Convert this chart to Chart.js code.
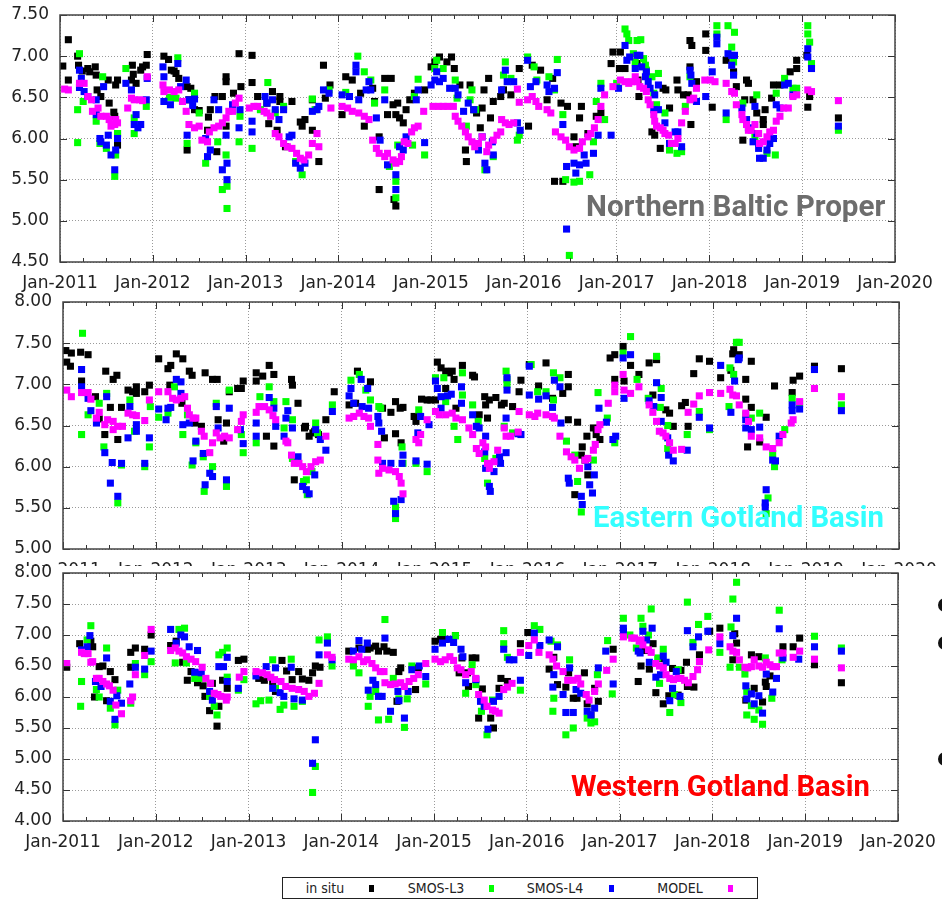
<!DOCTYPE html>
<html>
<head>
<meta charset="utf-8">
<script src="https://cdn.jsdelivr.net/npm/chart.js@4.4.0/dist/chart.umd.min.js"></script>
<style>
body{margin:0;background:#fff;width:942px;height:903px;position:relative;overflow:hidden}
canvas{position:absolute;left:0}
#c1{top:0}
#c2{top:290px}
#c3{top:560px}
#mask{position:absolute;left:0;top:566px;width:942px;height:30px;background:#fff}
.region{position:absolute;font-family:Roboto,sans-serif;font-weight:bold;font-size:30px;line-height:30px;white-space:nowrap}
#legend{position:absolute;left:282px;top:877px;width:476px;height:22px;box-sizing:border-box;border:1px solid #222;background:#fff;
  font-family:"DejaVu Sans Condensed","DejaVu Sans",sans-serif;font-stretch:condensed;font-size:14px;color:#222}
#legend span{position:absolute;top:2px;line-height:16px;transform:translateX(-50%)}
#legend i{position:absolute;top:7px;width:5px;height:7px}
.dot{position:absolute;left:938px;width:14px;height:14px;border-radius:50%;background:#111}
</style>
</head>
<body>
<canvas id="c1" width="942" height="300"></canvas>
<canvas id="c2" width="942" height="300"></canvas>
<div id="mask"></div>
<canvas id="c3" width="942" height="343"></canvas>
<div class="region" style="left:586px;top:191px;color:#6d6d6d;font-size:29.6px">Northern Baltic Proper</div>
<div class="region" style="left:593px;top:502px;color:#33ffff;font-size:29.3px">Eastern Gotland Basin</div>
<div class="region" style="left:571px;top:771px;color:#ff0000;font-size:29.2px">Western Gotland Basin</div>
<div class="dot" style="top:598px"></div>
<div class="dot" style="top:636px"></div>
<div class="dot" style="top:752px"></div>
<div id="legend">
  <span style="left:42px">in situ</span><i style="left:86px;background:#000"></i>
  <span style="left:153px">SMOS-L3</span><i style="left:206px;background:#00ff00"></i>
  <span style="left:272px">SMOS-L4</span><i style="left:326px;background:#0000ff"></i>
  <span style="left:397px">MODEL</span><i style="left:445px;background:#ff00ff"></i>
</div>
<script>
// time axis: decimal years, labels Jan-YYYY
var yearMin = 2011, yearMax = 2020;
var seriesNames = ["in situ", "SMOS-L3", "SMOS-L4", "MODEL"];

// ---- Northern Baltic Proper ----
var nbpInSitu = [[2011.03,6.88],[2011.09,7.20],[2011.09,6.71],[2011.19,7.00],[2011.20,6.89],[2011.24,6.82],[2011.30,6.85],[2011.32,6.81],[2011.38,6.87],[2011.39,6.77],[2011.40,6.59],[2011.44,6.51],[2011.52,6.71],[2011.53,6.43],[2011.60,6.65],[2011.62,6.71],[2011.58,6.32],[2011.59,6.27],[2011.62,6.06],[2011.62,5.92],[2011.77,6.71],[2011.78,6.89],[2011.79,6.78],[2011.82,6.67],[2011.87,6.83],[2011.89,6.87],[2011.93,6.89],[2011.94,7.02],[2012.12,7.00],[2012.17,6.96],[2012.20,6.83],[2012.23,6.82],[2012.25,6.79],[2012.28,6.73],[2012.37,6.63],[2012.41,6.61],[2012.39,6.47],[2012.45,6.35],[2012.50,6.34],[2012.37,5.86],[2012.59,6.10],[2012.60,6.26],[2012.62,6.35],[2012.67,6.51],[2012.69,5.84],[2012.75,6.51],[2012.79,6.75],[2012.79,6.69],[2012.79,6.15],[2012.87,6.55],[2012.93,7.03],[2012.95,6.63],[2013.07,7.01],[2013.07,6.68],[2013.13,6.51],[2013.23,6.43],[2013.25,6.18],[2013.29,6.57],[2013.34,6.10],[2013.37,6.51],[2013.37,6.45],[2013.43,5.90],[2013.50,6.45],[2013.59,6.20],[2013.61,6.15],[2013.64,6.23],[2013.72,6.47],[2013.72,6.10],[2013.79,5.72],[2013.86,6.49],[2013.91,6.65],[2013.84,6.89],[2014.04,6.29],[2014.08,6.75],[2014.15,6.71],[2014.24,6.55],[2014.28,6.15],[2014.37,6.61],[2014.39,6.45],[2014.44,6.02],[2014.44,5.38],[2014.50,6.73],[2014.53,6.29],[2014.57,6.73],[2014.59,6.41],[2014.62,6.29],[2014.64,6.43],[2014.66,6.25],[2014.62,5.18],[2014.60,5.26],[2014.70,6.19],[2014.73,6.35],[2014.77,6.47],[2014.82,6.55],[2014.93,6.59],[2015.00,6.87],[2015.04,6.93],[2015.09,6.99],[2015.17,6.93],[2015.22,6.99],[2015.25,6.85],[2015.31,6.65],[2015.37,5.86],[2015.38,5.72],[2015.42,6.65],[2015.46,6.35],[2015.49,6.31],[2015.53,6.13],[2015.55,6.37],[2015.57,6.59],[2015.62,6.73],[2015.64,6.25],[2015.67,6.45],[2015.75,6.51],[2015.78,6.59],[2015.86,6.53],[2015.95,6.85],[2016.05,6.15],[2016.09,6.89],[2016.18,6.83],[2016.25,6.47],[2016.31,6.73],[2016.33,5.48],[2016.40,6.43],[2016.42,5.48],[2016.47,6.39],[2016.54,6.02],[2016.60,6.25],[2016.62,6.39],[2016.56,5.90],[2016.69,6.06],[2016.78,6.27],[2016.83,6.31],[2016.94,6.91],[2016.96,7.05],[2017.03,6.85],[2017.04,7.05],[2017.09,6.85],[2017.22,6.91],[2017.23,6.71],[2017.24,6.51],[2017.38,6.08],[2017.41,6.04],[2017.47,5.88],[2017.50,6.61],[2017.53,6.59],[2017.57,6.37],[2017.65,6.71],[2017.66,6.59],[2017.72,6.53],[2017.77,6.53],[2017.79,6.87],[2017.80,6.17],[2017.81,7.13],[2017.79,7.19],[2017.86,6.69],[2017.96,7.27],[2017.96,7.07],[2018.03,6.38],[2018.18,6.95],[2018.26,6.81],[2018.29,6.63],[2018.38,6.47],[2018.40,6.71],[2018.42,6.67],[2018.36,5.98],[2018.47,6.47],[2018.51,6.31],[2018.58,6.23],[2018.60,6.35],[2018.58,6.17],[2018.67,6.49],[2018.69,6.65],[2018.76,6.65],[2018.87,6.81],[2018.94,6.85],[2018.94,6.95],[2019.05,7.01],[2019.06,6.38],[2019.08,6.51],[2019.39,6.25]];
var nbpL3 = [[2011.21,7.03],[2011.19,6.35],[2011.19,5.95],[2011.25,6.45],[2011.46,6.75],[2011.39,6.21],[2011.43,5.94],[2011.50,5.88],[2011.59,5.54],[2011.60,5.80],[2011.62,6.06],[2011.71,6.85],[2011.80,6.06],[2011.80,6.25],[2011.93,6.39],[2012.18,6.50],[2012.27,6.98],[2012.25,6.49],[2012.37,5.94],[2012.45,6.55],[2012.50,6.31],[2012.57,5.70],[2012.70,5.96],[2012.75,5.38],[2012.79,5.80],[2012.80,5.42],[2012.80,5.15],[2012.93,5.96],[2012.94,6.27],[2013.07,5.88],[2013.24,6.68],[2013.16,6.35],[2013.32,6.31],[2013.41,6.39],[2013.54,5.72],[2013.61,5.56],[2013.72,6.48],[2013.75,6.35],[2013.90,6.59],[2014.08,6.56],[2014.21,7.00],[2014.28,6.81],[2014.35,6.71],[2014.39,6.43],[2014.50,6.59],[2014.55,5.66],[2014.62,5.48],[2014.62,5.28],[2014.64,5.92],[2014.80,5.92],[2014.82,6.51],[2014.86,6.72],[2014.93,5.80],[2015.04,6.85],[2015.06,6.95],[2015.13,6.85],[2015.26,6.71],[2015.28,6.49],[2015.38,6.15],[2015.42,6.47],[2015.44,6.59],[2015.48,6.35],[2015.58,5.62],[2015.67,5.78],[2015.78,6.77],[2015.80,6.93],[2015.86,6.73],[2015.93,5.98],[2015.95,6.04],[2016.04,6.99],[2016.11,6.87],[2016.14,6.71],[2016.27,6.75],[2016.36,6.96],[2016.33,6.59],[2016.42,6.29],[2016.45,5.50],[2016.54,5.47],[2016.60,5.48],[2016.71,5.56],[2016.75,5.96],[2016.78,6.45],[2016.83,6.67],[2016.87,6.23],[2016.49,4.58],[2017.00,6.67],[2017.09,7.33],[2017.11,7.27],[2017.13,7.19],[2017.22,7.19],[2017.26,7.20],[2017.18,7.03],[2017.20,6.93],[2017.29,6.97],[2017.31,6.89],[2017.32,6.83],[2017.38,6.75],[2017.45,6.79],[2017.40,6.55],[2017.43,6.41],[2017.52,6.31],[2017.57,5.86],[2017.65,5.82],[2017.70,5.84],[2017.74,6.39],[2017.79,6.75],[2018.08,7.37],[2018.08,7.27],[2018.20,7.37],[2018.27,7.29],[2018.24,7.11],[2018.26,6.93],[2018.18,6.23],[2018.36,6.43],[2018.51,6.53],[2018.49,6.02],[2018.62,5.82],[2018.71,5.80],[2018.72,6.55],[2018.81,6.73],[2018.90,6.61],[2018.94,6.61],[2019.06,7.37],[2019.06,7.27],[2019.08,7.17],[2019.10,6.91],[2019.39,6.10]];
var nbpL4 = [[2011.21,6.83],[2011.23,6.73],[2011.21,6.62],[2011.26,6.57],[2011.30,6.51],[2011.39,6.47],[2011.39,6.29],[2011.43,6.00],[2011.44,5.96],[2011.47,6.63],[2011.50,5.92],[2011.52,6.04],[2011.55,5.80],[2011.59,5.62],[2011.60,5.86],[2011.62,6.00],[2011.71,6.67],[2011.77,6.59],[2011.80,6.17],[2011.82,6.29],[2011.84,6.13],[2011.87,6.17],[2011.93,6.47],[2011.94,6.73],[2012.11,6.87],[2012.12,6.45],[2012.12,6.75],[2012.19,6.41],[2012.27,6.91],[2012.30,6.63],[2012.36,6.71],[2012.39,6.47],[2012.43,6.40],[2012.45,6.48],[2012.37,6.04],[2012.57,6.00],[2012.59,5.78],[2012.62,5.86],[2012.66,6.47],[2012.71,6.35],[2012.75,5.62],[2012.79,6.04],[2012.80,5.70],[2012.80,5.50],[2012.86,6.41],[2012.93,6.13],[2012.94,6.35],[2013.07,6.21],[2013.07,6.08],[2013.21,6.51],[2013.23,6.43],[2013.29,6.47],[2013.32,6.35],[2013.36,6.23],[2013.41,6.35],[2013.47,6.02],[2013.50,6.04],[2013.54,5.70],[2013.59,5.64],[2013.64,5.70],[2013.72,6.33],[2013.77,6.35],[2013.79,6.39],[2013.84,6.59],[2013.90,6.55],[2014.04,6.53],[2014.12,6.51],[2014.19,6.89],[2014.19,6.81],[2014.22,6.47],[2014.30,6.59],[2014.33,6.69],[2014.35,6.59],[2014.41,6.25],[2014.45,5.98],[2014.50,6.47],[2014.53,5.68],[2014.62,5.56],[2014.62,5.38],[2014.66,5.90],[2014.70,5.86],[2014.73,6.02],[2014.84,6.47],[2014.86,6.59],[2014.93,5.95],[2015.00,6.65],[2015.04,6.71],[2015.06,6.81],[2015.09,6.69],[2015.13,6.73],[2015.20,6.61],[2015.26,6.61],[2015.29,6.53],[2015.35,6.33],[2015.40,6.43],[2015.46,6.35],[2015.51,5.86],[2015.55,6.02],[2015.58,5.70],[2015.60,5.62],[2015.66,5.96],[2015.67,5.80],[2015.76,6.59],[2015.80,6.83],[2015.82,6.69],[2015.89,6.69],[2015.93,6.19],[2015.96,6.10],[2016.04,6.95],[2016.07,6.63],[2016.13,6.69],[2016.25,6.65],[2016.27,6.57],[2016.33,6.61],[2016.36,6.80],[2016.42,6.17],[2016.46,5.66],[2016.46,4.90],[2016.54,5.70],[2016.56,5.58],[2016.60,5.68],[2016.65,5.80],[2016.67,5.70],[2016.75,5.82],[2016.80,6.04],[2016.83,6.61],[2016.94,6.04],[2017.02,6.61],[2017.09,7.13],[2017.11,6.95],[2017.14,6.99],[2017.20,6.85],[2017.22,7.01],[2017.25,7.01],[2017.27,6.87],[2017.31,6.75],[2017.32,6.81],[2017.34,6.69],[2017.36,6.61],[2017.41,6.53],[2017.45,6.65],[2017.40,6.35],[2017.45,6.35],[2017.52,6.19],[2017.57,5.94],[2017.63,6.08],[2017.66,6.08],[2017.70,5.90],[2017.79,6.83],[2017.80,6.77],[2017.81,6.67],[2017.86,6.45],[2017.96,6.51],[2018.02,6.95],[2018.03,6.81],[2018.08,7.23],[2018.08,7.15],[2018.18,6.31],[2018.20,7.03],[2018.24,7.01],[2018.26,6.77],[2018.27,7.01],[2018.24,6.89],[2018.35,6.37],[2018.40,6.23],[2018.42,6.13],[2018.47,5.96],[2018.49,6.39],[2018.51,6.06],[2018.53,5.88],[2018.54,5.76],[2018.58,5.76],[2018.62,5.86],[2018.65,5.94],[2018.69,6.00],[2018.72,6.41],[2018.76,6.37],[2018.81,6.65],[2018.85,6.67],[2018.90,6.53],[2019.06,7.09],[2019.06,6.99],[2019.10,6.85],[2019.39,6.15]];
var nbpModel = [[2011.05,6.60],[2011.09,6.59],[2011.21,6.67],[2011.26,6.67],[2011.30,6.51],[2011.34,6.47],[2011.35,6.33],[2011.41,6.37],[2011.44,6.27],[2011.50,6.27],[2011.53,6.23],[2011.55,6.15],[2011.59,6.17],[2011.60,6.23],[2011.62,6.19],[2011.73,6.37],[2011.77,6.49],[2011.80,6.47],[2011.86,6.47],[2011.89,6.46],[2011.94,6.75],[2012.11,6.65],[2012.12,6.57],[2012.18,6.59],[2012.23,6.57],[2012.28,6.59],[2012.32,6.45],[2012.36,6.33],[2012.39,6.17],[2012.45,6.13],[2012.50,6.15],[2012.53,5.98],[2012.59,5.96],[2012.61,6.08],[2012.66,6.13],[2012.71,6.15],[2012.75,6.19],[2012.79,6.25],[2012.82,6.33],[2012.86,6.33],[2012.89,6.43],[2012.93,6.49],[2013.04,6.37],[2013.09,6.39],[2013.13,6.39],[2013.20,6.33],[2013.23,6.31],[2013.27,6.27],[2013.32,6.06],[2013.36,6.02],[2013.41,5.94],[2013.45,5.90],[2013.50,5.88],[2013.55,5.82],[2013.59,5.76],[2013.63,5.74],[2013.68,5.80],[2013.72,5.94],[2013.77,6.06],[2013.79,5.90],[2013.92,6.37],[2014.04,6.39],[2014.10,6.37],[2014.15,6.33],[2014.22,6.31],[2014.28,6.27],[2014.33,6.23],[2014.37,5.98],[2014.41,5.88],[2014.44,5.82],[2014.50,5.78],[2014.53,5.82],[2014.59,5.74],[2014.62,5.70],[2014.66,5.72],[2014.68,5.78],[2014.71,5.96],[2014.75,5.94],[2014.79,6.08],[2014.82,6.13],[2014.86,6.15],[2014.92,6.33],[2015.02,6.39],[2015.08,6.39],[2015.13,6.39],[2015.18,6.39],[2015.24,6.39],[2015.26,6.27],[2015.29,6.21],[2015.33,6.15],[2015.37,6.08],[2015.40,6.02],[2015.44,5.96],[2015.47,5.90],[2015.51,5.94],[2015.55,6.02],[2015.60,5.84],[2015.62,5.92],[2015.67,5.98],[2015.71,6.04],[2015.75,6.08],[2015.76,6.23],[2015.80,6.19],[2015.84,6.17],[2015.89,6.19],[2015.93,6.60],[2015.95,6.44],[2016.04,6.47],[2016.09,6.51],[2016.13,6.45],[2016.16,6.39],[2016.25,6.35],[2016.29,6.31],[2016.34,6.08],[2016.40,6.02],[2016.45,5.98],[2016.49,5.90],[2016.54,5.86],[2016.60,5.88],[2016.63,5.96],[2016.69,6.02],[2016.72,6.06],[2016.76,6.13],[2016.80,6.23],[2016.83,6.39],[2016.87,6.53],[2016.96,6.63],[2017.04,6.71],[2017.09,6.69],[2017.13,6.67],[2017.16,6.69],[2017.20,6.75],[2017.22,6.69],[2017.25,6.63],[2017.29,6.61],[2017.32,6.57],[2017.34,6.47],[2017.36,6.41],[2017.40,6.29],[2017.41,6.21],[2017.43,6.15],[2017.47,6.13],[2017.50,6.10],[2017.52,6.06],[2017.56,6.04],[2017.59,5.94],[2017.63,5.94],[2017.66,6.00],[2017.70,6.19],[2017.74,6.33],[2017.79,6.47],[2017.83,6.49],[2017.86,6.61],[2017.95,6.71],[2018.01,6.71],[2018.06,6.69],[2018.18,6.67],[2018.24,6.57],[2018.27,6.55],[2018.29,6.41],[2018.35,6.29],[2018.36,6.23],[2018.40,6.17],[2018.42,6.10],[2018.45,6.10],[2018.49,6.17],[2018.53,6.06],[2018.54,5.94],[2018.58,5.96],[2018.62,6.02],[2018.65,6.08],[2018.69,6.10],[2018.72,6.21],[2018.76,6.27],[2018.80,6.37],[2018.85,6.37],[2018.90,6.51],[2018.94,6.53],[2019.06,6.59],[2019.10,6.57],[2019.39,6.46]];

// ---- Eastern Gotland Basin ----
var egbInSitu = [[2011.03,7.41],[2011.04,7.27],[2011.09,7.38],[2011.08,7.22],[2011.19,7.39],[2011.20,7.04],[2011.27,7.36],[2011.35,6.85],[2011.39,6.58],[2011.45,6.39],[2011.46,7.16],[2011.51,6.72],[2011.54,7.06],[2011.58,7.11],[2011.59,6.33],[2011.63,6.72],[2011.70,6.93],[2011.75,6.91],[2011.79,6.97],[2011.79,6.89],[2011.88,6.91],[2011.93,6.99],[2012.03,7.31],[2012.13,7.19],[2012.15,6.99],[2012.16,7.23],[2012.22,7.37],[2012.29,7.31],[2012.28,6.77],[2012.36,7.16],[2012.39,7.11],[2012.42,6.53],[2012.49,6.49],[2012.53,7.14],[2012.61,7.06],[2012.66,7.06],[2012.67,6.57],[2012.73,6.31],[2012.76,6.53],[2012.79,6.91],[2012.88,6.95],[2012.92,6.95],[2012.94,7.04],[2013.08,7.14],[2013.08,7.04],[2013.15,7.10],[2013.19,6.37],[2013.22,7.23],[2013.27,7.12],[2013.27,6.25],[2013.46,7.06],[2013.47,6.99],[2013.53,6.77],[2013.49,5.84],[2013.60,6.47],[2013.65,6.37],[2013.71,6.43],[2013.61,6.49],[2013.69,6.41],[2013.75,6.39],[2013.83,6.57],[2013.92,6.91],[2014.08,6.75],[2014.17,7.16],[2014.15,6.77],[2014.31,7.03],[2014.44,6.71],[2014.46,6.35],[2014.53,6.66],[2014.58,6.79],[2014.58,6.40],[2014.63,6.71],[2014.64,6.29],[2014.66,6.72],[2014.78,6.61],[2014.80,6.55],[2014.86,6.82],[2014.92,6.81],[2014.96,6.81],[2015.01,6.81],[2015.03,7.27],[2015.07,7.20],[2015.12,7.16],[2015.16,7.14],[2015.19,7.16],[2015.12,6.95],[2015.21,7.06],[2015.23,6.71],[2015.30,7.23],[2015.41,7.11],[2015.43,7.09],[2015.48,6.63],[2015.54,6.85],[2015.55,6.75],[2015.57,6.59],[2015.59,6.81],[2015.66,6.84],[2015.72,6.75],[2015.75,6.77],[2015.84,6.73],[2015.91,6.91],[2015.93,7.05],[2016.02,7.24],[2016.12,6.98],[2016.20,7.26],[2016.27,6.83],[2016.38,6.89],[2016.44,7.12],[2016.44,6.97],[2016.44,6.57],[2016.54,6.54],[2016.59,6.24],[2016.58,6.14],[2016.62,6.08],[2016.65,5.90],[2016.51,5.66],[2016.64,6.37],[2016.71,6.47],[2016.74,6.39],[2016.78,6.33],[2016.89,7.32],[2016.94,7.36],[2016.94,7.06],[2017.03,7.46],[2017.04,7.04],[2017.11,7.23],[2017.20,7.12],[2017.31,7.26],[2017.35,6.87],[2017.39,7.30],[2017.49,6.69],[2017.53,6.65],[2017.57,6.49],[2017.66,6.74],[2017.70,6.78],[2017.73,6.49],[2017.79,7.13],[2017.85,7.31],[2017.96,7.28],[2018.08,7.08],[2018.19,7.17],[2018.21,7.37],[2018.22,7.42],[2018.28,7.36],[2018.35,6.82],[2018.35,7.06],[2018.37,6.24],[2018.41,7.28],[2018.41,6.72],[2018.50,6.30],[2018.57,6.60],[2018.66,6.98],[2018.85,6.90],[2018.86,7.05],[2018.93,7.10],[2019.09,7.22],[2019.38,7.19]];
var egbL3 = [[2011.21,7.62],[2011.20,6.39],[2011.27,6.63],[2011.39,6.77],[2011.44,6.24],[2011.47,6.89],[2011.59,5.56],[2011.63,6.02],[2011.72,6.81],[2011.77,6.43],[2011.88,6.00],[2011.93,6.24],[2011.94,6.73],[2012.03,6.60],[2012.13,6.65],[2012.20,6.97],[2012.29,6.39],[2012.34,6.63],[2012.39,6.02],[2012.43,6.29],[2012.51,6.12],[2012.52,5.70],[2012.65,6.77],[2012.61,6.00],[2012.76,5.76],[2012.79,6.93],[2012.92,6.39],[2012.94,6.17],[2013.08,6.29],[2013.12,6.85],[2013.22,6.97],[2013.27,6.79],[2013.38,6.47],[2013.40,6.79],[2013.47,6.57],[2013.47,6.10],[2013.62,5.84],[2013.63,5.66],[2013.72,6.53],[2013.59,5.82],[2013.68,5.94],[2013.74,6.41],[2013.90,6.75],[2014.10,7.05],[2014.19,7.12],[2014.26,6.93],[2014.31,6.81],[2014.40,6.73],[2014.42,6.71],[2014.58,5.51],[2014.58,5.37],[2014.65,6.24],[2014.66,6.04],[2014.80,6.04],[2014.83,6.69],[2014.92,5.94],[2015.01,7.08],[2015.10,7.08],[2015.12,6.79],[2015.21,6.49],[2015.25,6.33],[2015.30,7.14],[2015.30,6.87],[2015.41,6.75],[2015.47,6.55],[2015.54,6.10],[2015.57,5.80],[2015.66,6.10],[2015.75,6.49],[2015.77,7.16],[2015.78,7.06],[2015.78,7.00],[2015.84,6.41],[2016.04,7.24],[2016.11,6.91],[2016.20,6.91],[2016.28,7.14],[2016.35,7.08],[2016.28,6.81],[2016.42,6.31],[2016.51,6.14],[2016.54,5.82],[2016.58,5.45],[2016.71,6.08],[2016.76,6.90],[2016.86,6.59],[2016.94,6.29],[2017.03,7.38],[2017.11,7.58],[2017.18,7.06],[2017.30,6.83],[2017.39,7.34],[2017.44,6.95],[2017.43,6.72],[2017.51,6.50],[2017.51,6.22],[2017.72,6.39],[2017.85,6.67],[2017.96,6.45],[2018.17,6.73],[2018.18,7.20],[2018.22,7.12],[2018.25,7.51],[2018.28,7.51],[2018.35,6.63],[2018.41,6.59],[2018.50,6.65],[2018.59,5.62],[2018.57,5.43],[2018.64,6.16],[2018.66,6.00],[2018.77,6.45],[2018.85,6.83],[2018.93,6.77],[2019.38,6.75]];
var egbL4 = [[2011.20,7.18],[2011.20,6.97],[2011.27,6.83],[2011.30,6.68],[2011.36,6.53],[2011.45,6.17],[2011.47,6.85],[2011.53,6.05],[2011.59,5.64],[2011.63,6.04],[2011.51,5.80],[2011.70,6.35],[2011.72,6.73],[2011.79,6.43],[2011.79,6.51],[2011.88,6.04],[2011.93,6.35],[2012.03,6.70],[2012.11,6.57],[2012.13,6.71],[2012.16,6.72],[2012.22,7.06],[2012.27,7.03],[2012.27,6.89],[2012.29,6.51],[2012.36,6.53],[2012.40,6.07],[2012.43,6.31],[2012.51,6.16],[2012.53,5.78],[2012.58,5.92],[2012.61,5.88],[2012.65,6.73],[2012.67,6.47],[2012.76,5.84],[2012.79,6.71],[2012.91,6.45],[2012.94,6.28],[2013.08,6.53],[2013.08,6.37],[2013.22,6.84],[2013.27,6.71],[2013.29,6.49],[2013.38,6.37],[2013.40,6.59],[2013.42,6.68],[2013.47,6.47],[2013.53,6.12],[2013.58,5.76],[2013.62,5.72],[2013.65,5.67],[2013.71,5.90],[2013.72,6.45],[2013.77,6.33],[2013.83,6.20],[2013.90,6.67],[2014.08,6.86],[2014.10,6.95],[2014.13,6.77],[2014.21,7.06],[2014.22,6.73],[2014.28,6.95],[2014.29,6.71],[2014.39,6.61],[2014.40,6.53],[2014.43,6.43],[2014.44,6.04],[2014.53,6.04],[2014.56,5.58],[2014.58,5.43],[2014.64,5.60],[2014.65,6.04],[2014.66,6.14],[2014.80,6.07],[2014.82,6.41],[2014.85,6.61],[2014.92,6.03],[2014.94,6.51],[2015.01,7.04],[2015.03,6.95],[2015.07,6.85],[2015.14,6.86],[2015.18,6.88],[2015.07,6.71],[2015.29,6.97],[2015.29,6.77],[2015.41,6.63],[2015.45,6.49],[2015.48,6.47],[2015.55,6.37],[2015.54,6.18],[2015.55,5.98],[2015.59,5.76],[2015.60,5.70],[2015.64,5.94],[2015.70,6.12],[2015.71,6.04],[2015.77,6.17],[2015.77,6.59],[2015.78,7.08],[2015.78,6.93],[2015.90,6.40],[2015.93,6.39],[2016.02,7.22],[2016.02,6.87],[2016.12,6.82],[2016.20,6.86],[2016.27,6.72],[2016.29,7.05],[2016.36,6.53],[2016.35,6.97],[2016.44,5.86],[2016.45,5.80],[2016.58,5.64],[2016.59,5.54],[2016.65,6.00],[2016.67,5.78],[2016.70,5.68],[2016.72,5.90],[2016.77,6.71],[2016.85,6.54],[2016.92,6.33],[2016.95,6.37],[2017.03,7.32],[2017.04,6.83],[2017.11,7.36],[2017.31,6.80],[2017.39,7.02],[2017.36,6.73],[2017.44,6.84],[2017.44,6.55],[2017.51,6.35],[2017.52,6.14],[2017.57,6.07],[2017.72,6.20],[2017.85,6.60],[2017.96,6.47],[2018.08,7.23],[2018.19,6.66],[2018.23,7.04],[2018.28,7.32],[2018.27,7.30],[2018.35,6.57],[2018.35,6.47],[2018.41,6.45],[2018.50,6.48],[2018.64,6.08],[2018.67,6.07],[2018.71,6.37],[2018.57,5.72],[2018.56,5.56],[2018.56,5.51],[2018.85,6.68],[2018.85,6.75],[2018.93,6.70],[2019.09,7.18],[2019.38,6.68]];
var egbModel = [[2011.04,6.93],[2011.09,6.85],[2011.20,6.90],[2011.27,6.90],[2011.30,6.82],[2011.36,6.59],[2011.39,6.66],[2011.45,6.51],[2011.48,6.57],[2011.54,6.55],[2011.54,6.45],[2011.59,6.49],[2011.64,6.49],[2011.70,6.65],[2011.75,6.63],[2011.79,6.62],[2011.88,6.56],[2011.93,6.81],[2012.03,6.91],[2012.13,6.91],[2012.18,6.83],[2012.22,6.81],[2012.27,6.83],[2012.31,6.85],[2012.34,6.71],[2012.36,6.63],[2012.40,6.59],[2012.43,6.59],[2012.49,6.43],[2012.52,6.37],[2012.58,6.17],[2012.61,6.29],[2012.65,6.41],[2012.69,6.35],[2012.74,6.37],[2012.79,6.35],[2012.88,6.45],[2012.92,6.55],[2012.94,6.63],[2013.08,6.66],[2013.11,6.73],[2013.17,6.73],[2013.22,6.69],[2013.26,6.62],[2013.29,6.57],[2013.40,6.31],[2013.42,6.29],[2013.46,6.14],[2013.49,6.04],[2013.54,6.04],[2013.58,6.00],[2013.62,5.94],[2013.67,6.00],[2013.72,6.06],[2013.77,6.08],[2013.83,6.37],[2014.08,6.59],[2014.13,6.61],[2014.19,6.65],[2014.24,6.61],[2014.29,6.59],[2014.31,6.49],[2014.39,6.27],[2014.39,6.08],[2014.40,5.92],[2014.44,5.98],[2014.51,5.96],[2014.58,5.94],[2014.62,5.88],[2014.64,5.80],[2014.66,5.67],[2014.80,6.33],[2014.83,6.29],[2014.85,6.39],[2014.92,6.57],[2015.01,6.67],[2015.05,6.63],[2015.12,6.63],[2015.19,6.65],[2015.23,6.59],[2015.30,6.57],[2015.37,6.47],[2015.41,6.39],[2015.45,6.22],[2015.48,6.16],[2015.52,6.29],[2015.55,6.24],[2015.57,6.04],[2015.59,5.98],[2015.64,6.06],[2015.68,6.20],[2015.75,6.47],[2015.77,6.37],[2015.82,6.37],[2015.90,6.42],[2015.91,6.67],[2016.02,6.63],[2016.08,6.61],[2016.11,6.65],[2016.20,6.63],[2016.27,6.61],[2016.29,6.59],[2016.35,6.37],[2016.42,6.18],[2016.47,6.12],[2016.51,6.08],[2016.56,5.98],[2016.62,6.08],[2016.65,6.10],[2016.71,6.20],[2016.73,6.27],[2016.76,6.45],[2016.78,6.51],[2016.87,6.77],[2016.94,6.99],[2016.94,6.91],[2017.03,7.12],[2017.04,6.93],[2017.11,6.89],[2017.20,6.97],[2017.31,6.75],[2017.35,6.66],[2017.39,6.55],[2017.42,6.43],[2017.46,6.41],[2017.49,6.37],[2017.53,6.29],[2017.57,6.20],[2017.66,6.21],[2017.73,6.66],[2017.79,6.76],[2017.85,6.86],[2017.96,6.90],[2018.08,6.89],[2018.18,6.94],[2018.21,6.87],[2018.25,6.86],[2018.28,6.75],[2018.35,6.65],[2018.38,6.55],[2018.41,6.37],[2018.50,6.35],[2018.57,6.24],[2018.64,6.22],[2018.71,6.29],[2018.75,6.39],[2018.84,6.53],[2018.86,6.57],[2018.93,6.79],[2019.09,6.95],[2019.38,6.85]];

// ---- Western Gotland Basin ----
var wgbInSitu = [[2011.04,6.48],[2011.18,6.86],[2011.32,6.81],[2011.30,6.90],[2011.34,6.00],[2011.39,6.49],[2011.43,6.50],[2011.47,5.94],[2011.51,6.41],[2011.56,6.28],[2011.73,6.48],[2011.73,6.72],[2011.78,6.79],[2011.88,6.77],[2011.95,7.00],[2012.16,6.83],[2012.22,6.90],[2012.29,6.56],[2012.34,6.27],[2012.38,6.41],[2012.45,6.23],[2012.51,6.18],[2012.53,6.01],[2012.58,5.78],[2012.61,6.22],[2012.66,5.53],[2012.68,5.85],[2012.72,6.27],[2012.77,6.14],[2012.89,6.59],[2012.95,6.61],[2013.11,6.30],[2013.17,6.27],[2013.26,6.25],[2013.29,6.09],[2013.36,6.59],[2013.41,6.42],[2013.47,6.28],[2013.54,6.41],[2013.58,6.29],[2013.65,6.27],[2013.69,6.39],[2013.72,6.50],[2013.77,6.48],[2014.08,6.74],[2014.19,6.79],[2014.28,6.77],[2014.31,6.79],[2014.37,6.82],[2014.40,6.74],[2014.46,6.81],[2014.49,6.74],[2014.56,6.72],[2014.62,6.41],[2014.64,6.47],[2014.60,5.93],[2014.80,6.12],[2014.83,6.47],[2015.01,6.90],[2015.07,6.93],[2015.12,6.93],[2015.23,6.99],[2015.27,6.39],[2015.30,6.63],[2015.36,6.39],[2015.41,6.63],[2015.45,6.63],[2015.37,6.17],[2015.52,6.13],[2015.48,5.66],[2015.61,5.66],[2015.64,5.50],[2015.72,6.30],[2015.70,6.14],[2015.79,6.25],[2015.93,6.86],[2016.01,7.04],[2016.24,6.45],[2016.29,6.64],[2016.33,6.20],[2016.42,6.16],[2016.45,6.39],[2016.50,5.98],[2016.54,5.98],[2016.62,6.39],[2016.65,5.89],[2016.69,5.71],[2016.77,5.93],[2016.73,6.14],[2016.93,6.77],[2017.20,6.25],[2017.23,6.50],[2017.27,6.75],[2017.32,6.45],[2017.36,6.86],[2017.39,6.07],[2017.43,6.62],[2017.47,5.89],[2017.53,6.02],[2017.57,6.46],[2017.63,6.03],[2017.66,6.43],[2017.72,6.56],[2017.73,6.17],[2017.80,6.16],[2017.86,6.68],[2017.97,7.06],[2018.08,7.11],[2018.24,7.02],[2018.26,6.87],[2018.22,6.60],[2018.36,5.95],[2018.42,6.68],[2018.45,6.14],[2018.50,6.65],[2018.54,5.92],[2018.57,6.24],[2018.58,6.17],[2018.62,6.34],[2018.76,6.81],[2018.87,6.81],[2018.94,6.95],[2019.10,6.52],[2019.39,6.23]];
var wgbL3 = [[2011.20,6.25],[2011.19,5.85],[2011.26,6.92],[2011.30,7.15],[2011.36,6.12],[2011.39,6.00],[2011.47,6.79],[2011.51,5.82],[2011.56,5.55],[2011.59,6.11],[2011.73,5.90],[2011.78,6.54],[2011.88,6.36],[2011.95,6.57],[2012.21,6.55],[2012.25,7.09],[2012.31,7.11],[2012.33,6.55],[2012.42,6.30],[2012.47,6.30],[2012.58,6.01],[2012.63,5.85],[2012.66,5.71],[2012.68,6.68],[2012.72,6.72],[2012.77,6.79],[2012.77,6.32],[2012.89,6.11],[2012.95,6.28],[2013.08,5.89],[2013.13,5.94],[2013.22,5.95],[2013.26,6.60],[2013.29,6.14],[2013.34,5.80],[2013.38,5.87],[2013.46,6.61],[2013.49,5.85],[2013.58,5.93],[2013.69,4.46],[2013.72,4.88],[2013.76,6.92],[2013.85,6.97],[2013.90,6.50],[2014.13,6.50],[2014.19,6.39],[2014.29,5.85],[2014.31,6.01],[2014.37,6.09],[2014.40,5.63],[2014.47,7.25],[2014.51,5.64],[2014.56,6.30],[2014.62,5.97],[2014.68,5.51],[2014.71,5.97],[2014.76,6.50],[2014.91,6.21],[2015.09,7.04],[2015.23,6.99],[2015.34,6.06],[2015.41,6.52],[2015.45,6.20],[2015.51,5.77],[2015.57,5.39],[2015.63,5.95],[2015.75,7.07],[2015.75,6.86],[2015.79,6.64],[2015.93,6.11],[2016.08,7.15],[2016.14,7.09],[2016.26,6.90],[2016.33,6.84],[2016.28,5.77],[2016.29,5.98],[2016.42,5.39],[2016.46,6.60],[2016.50,5.50],[2016.65,5.66],[2016.69,5.58],[2016.73,5.60],[2016.76,6.36],[2016.87,6.91],[2016.92,6.05],[2017.04,7.27],[2017.11,7.00],[2017.18,6.79],[2017.23,7.27],[2017.25,7.14],[2017.34,7.42],[2017.31,7.00],[2017.41,6.63],[2017.43,6.22],[2017.47,6.77],[2017.54,5.75],[2017.59,6.04],[2017.63,6.44],[2017.66,5.91],[2017.73,7.53],[2017.79,6.88],[2017.85,7.17],[2017.95,7.30],[2018.08,6.72],[2018.20,7.13],[2018.19,6.48],[2018.22,7.58],[2018.26,7.85],[2018.29,6.48],[2018.35,6.37],[2018.37,6.09],[2018.37,5.71],[2018.42,5.86],[2018.45,5.64],[2018.50,5.79],[2018.54,5.56],[2018.57,6.63],[2018.64,5.98],[2018.72,7.40],[2018.75,6.60],[2019.10,6.98],[2019.39,6.79]];
var wgbL4 = [[2011.20,6.76],[2011.26,6.81],[2011.29,6.99],[2011.35,6.25],[2011.41,6.17],[2011.47,6.63],[2011.51,5.93],[2011.56,5.64],[2011.58,6.02],[2011.63,5.90],[2011.72,6.21],[2011.78,6.48],[2011.88,6.45],[2011.95,6.74],[2012.16,7.09],[2012.22,6.87],[2012.27,7.00],[2012.31,6.97],[2012.36,6.81],[2012.45,6.75],[2012.42,6.40],[2012.49,6.39],[2012.58,6.09],[2012.61,5.95],[2012.68,6.49],[2012.73,6.49],[2012.77,6.64],[2012.77,6.25],[2012.89,6.14],[2013.08,6.34],[2013.19,6.49],[2013.29,6.47],[2013.26,6.14],[2013.34,6.07],[2013.38,6.01],[2013.46,6.48],[2013.49,5.97],[2013.58,5.95],[2013.69,4.93],[2013.72,5.31],[2013.76,6.68],[2013.85,6.87],[2013.90,6.60],[2014.13,6.74],[2014.19,6.91],[2014.22,6.77],[2014.28,6.87],[2014.29,6.11],[2014.34,6.27],[2014.37,6.20],[2014.40,6.01],[2014.44,6.01],[2014.47,6.95],[2014.53,5.77],[2014.61,6.09],[2014.62,5.94],[2014.68,5.66],[2014.72,6.09],[2014.76,6.44],[2014.84,6.50],[2014.91,6.33],[2015.01,6.77],[2015.09,6.87],[2015.16,6.93],[2015.21,6.88],[2015.29,6.77],[2015.31,6.65],[2015.34,6.23],[2015.45,6.28],[2015.50,5.93],[2015.54,5.85],[2015.58,5.48],[2015.64,5.93],[2015.70,6.01],[2015.75,6.77],[2015.81,6.60],[2015.86,6.60],[2015.93,6.27],[2016.02,6.67],[2016.08,7.03],[2016.14,6.83],[2016.24,6.92],[2016.33,6.81],[2016.28,6.16],[2016.29,6.36],[2016.39,6.04],[2016.42,5.75],[2016.46,6.47],[2016.50,5.75],[2016.53,6.12],[2016.58,6.06],[2016.65,5.77],[2016.69,5.71],[2016.73,5.82],[2016.77,6.47],[2016.85,6.74],[2016.93,6.21],[2017.04,7.11],[2017.04,7.06],[2017.20,6.74],[2017.22,6.71],[2017.25,7.06],[2017.29,6.92],[2017.32,6.56],[2017.35,7.11],[2017.39,6.32],[2017.44,6.36],[2017.47,6.66],[2017.50,6.56],[2017.54,5.94],[2017.57,6.14],[2017.61,6.41],[2017.65,6.01],[2017.73,7.07],[2017.79,6.81],[2017.85,6.97],[2017.95,7.06],[2018.08,6.86],[2018.22,6.99],[2018.26,7.27],[2018.36,6.18],[2018.37,5.97],[2018.42,6.05],[2018.45,5.89],[2018.50,6.02],[2018.54,5.74],[2018.58,6.37],[2018.65,6.08],[2018.69,6.30],[2018.72,7.10],[2018.76,6.63],[2018.93,6.61],[2019.10,6.81],[2019.39,6.74]];
var wgbModel = [[2011.04,6.54],[2011.20,6.72],[2011.23,6.70],[2011.27,6.70],[2011.30,6.56],[2011.32,6.57],[2011.36,6.30],[2011.39,6.30],[2011.43,6.25],[2011.47,6.21],[2011.50,6.18],[2011.54,6.11],[2011.57,5.87],[2011.63,5.73],[2011.73,5.94],[2011.75,6.00],[2011.78,6.36],[2011.88,6.67],[2011.95,7.09],[2012.16,6.75],[2012.21,6.79],[2012.25,6.74],[2012.29,6.71],[2012.33,6.65],[2012.38,6.61],[2012.43,6.57],[2012.50,6.48],[2012.54,6.30],[2012.59,6.22],[2012.63,6.06],[2012.67,6.04],[2012.70,6.01],[2012.76,5.95],[2012.77,6.00],[2012.90,6.32],[2012.95,6.41],[2013.08,6.41],[2013.15,6.39],[2013.20,6.36],[2013.24,6.32],[2013.28,6.28],[2013.35,6.25],[2013.40,6.17],[2013.47,6.14],[2013.54,6.12],[2013.60,6.09],[2013.65,6.01],[2013.71,6.06],[2013.76,6.22],[2013.85,6.68],[2013.90,6.64],[2014.08,6.61],[2014.13,6.60],[2014.19,6.65],[2014.24,6.57],[2014.28,6.60],[2014.33,6.54],[2014.37,6.47],[2014.42,6.41],[2014.46,6.41],[2014.47,6.23],[2014.53,6.20],[2014.58,6.21],[2014.64,6.23],[2014.68,6.17],[2014.73,6.25],[2014.78,6.30],[2014.83,6.36],[2014.91,6.54],[2015.01,6.61],[2015.07,6.57],[2015.12,6.60],[2015.17,6.65],[2015.21,6.59],[2015.25,6.47],[2015.29,6.44],[2015.34,6.36],[2015.40,6.41],[2015.45,6.30],[2015.48,6.04],[2015.54,5.95],[2015.57,5.85],[2015.63,5.79],[2015.66,5.77],[2015.70,5.74],[2015.75,6.12],[2015.79,6.16],[2015.84,6.22],[2015.93,6.72],[2016.02,6.83],[2016.08,6.92],[2016.13,6.72],[2016.24,6.68],[2016.28,6.61],[2016.32,6.50],[2016.39,6.41],[2016.44,6.27],[2016.50,6.27],[2016.55,6.30],[2016.58,6.21],[2016.64,6.04],[2016.67,5.95],[2016.73,6.09],[2016.77,6.21],[2016.86,6.43],[2016.93,6.61],[2017.04,6.97],[2017.13,6.95],[2017.16,6.95],[2017.21,6.90],[2017.23,6.92],[2017.25,6.84],[2017.31,6.76],[2017.34,6.72],[2017.39,6.54],[2017.43,6.50],[2017.47,6.47],[2017.50,6.36],[2017.54,6.30],[2017.58,6.28],[2017.63,6.30],[2017.66,6.30],[2017.70,6.27],[2017.74,6.23],[2017.79,6.33],[2017.84,6.44],[2017.86,6.57],[2017.96,6.76],[2018.08,6.97],[2018.19,6.81],[2018.22,6.74],[2018.26,6.72],[2018.29,6.60],[2018.35,6.48],[2018.38,6.47],[2018.42,6.49],[2018.45,6.60],[2018.50,6.50],[2018.54,6.48],[2018.58,6.56],[2018.62,6.52],[2018.65,6.49],[2018.69,6.49],[2018.72,6.71],[2018.76,6.71],[2018.87,6.64],[2018.94,6.74],[2019.10,6.61],[2019.39,6.47]];

var colors = ["#000000", "#00ff00", "#0000ff", "#ff00ff"];

var panels = [
  {canvas: "c1", yMin: 4.5, yMax: 7.5, data: [nbpInSitu, nbpL3, nbpL4, nbpModel], left: 60, right: 47, top: 15, bottom: 38},
  {canvas: "c2", yMin: 5.0, yMax: 8.0, data: [egbInSitu, egbL3, egbL4, egbModel], left: 63, right: 43, top: 12, bottom: 41},
  {canvas: "c3", yMin: 4.0, yMax: 8.0, data: [wgbInSitu, wgbL3, wgbL4, wgbModel], left: 63, right: 44, top: 13, bottom: 82}
];

// frame around plot + inward ticks, gnuplot style
var framePlugin = {
  id: "frame",
  afterDraw: function(chart) {
    var ctx = chart.ctx, a = chart.chartArea, sx = chart.scales.x, sy = chart.scales.y;
    ctx.save();
    ctx.strokeStyle = "#333";
    ctx.lineWidth = 1;
    ctx.beginPath();
    for (var t = yearMin; t <= yearMax + 0.001; t += 0.25) {
      var x = Math.round(sx.getPixelForValue(t)) + 0.5;
      var len = Math.abs(t - Math.round(t)) < 0.01 ? 7 : 4;
      ctx.moveTo(x, a.bottom); ctx.lineTo(x, a.bottom - len);
      ctx.moveTo(x, a.top); ctx.lineTo(x, a.top + len);
    }
    sy.ticks.forEach(function(tk) {
      var y = Math.round(sy.getPixelForValue(tk.value)) + 0.5;
      ctx.moveTo(a.left, y); ctx.lineTo(a.left + 7, y);
      ctx.moveTo(a.right, y); ctx.lineTo(a.right - 7, y);
    });
    ctx.stroke();
    ctx.lineWidth = 1.5;
    ctx.strokeStyle = "#444";
    ctx.strokeRect(a.left, a.top, a.right - a.left, a.bottom - a.top);
    ctx.restore();
  }
};

Chart.defaults.font.family = "'DejaVu Sans', sans-serif";
Chart.defaults.font.size = 17;
Chart.defaults.color = "#222";

panels.forEach(function(p) {
  var datasets = p.data.map(function(arr, i) {
    return {
      label: seriesNames[i],
      data: arr.map(function(d) { return {x: d[0], y: d[1]}; }),
      pointStyle: "rect",
      pointRadius: 5,
      pointBorderWidth: 0,
      backgroundColor: colors[i],
      pointBackgroundColor: colors[i],
      order: 4 - i
    };
  });
  new Chart(document.getElementById(p.canvas), {
    type: "scatter",
    data: {datasets: datasets},
    options: {
      responsive: false,
      animation: false,
      layout: {padding: {left: 0, right: p.right, top: p.top, bottom: 0}},
      plugins: {legend: {display: false}, tooltip: {enabled: false}},
      scales: {
        x: {
          type: "linear", min: yearMin, max: yearMax,
          ticks: {stepSize: 1, padding: 11, maxRotation: 0, autoSkip: false,
            callback: function(v) { return "Jan-" + v; }},
          grid: {color: "#9a9a9a", drawTicks: false},
          border: {display: false, dash: [1, 2]},
          afterFit: function(s) { s.height = p.bottom; s.paddingLeft = 0; s.paddingRight = 0; }
        },
        y: {
          min: p.yMin, max: p.yMax,
          ticks: {stepSize: 0.5, padding: 11, callback: function(v) { return v.toFixed(2); }},
          grid: {color: "#9a9a9a", drawTicks: false},
          border: {display: false, dash: [1, 2]},
          afterFit: function(s) { s.width = p.left; s.paddingTop = 0; s.paddingBottom = 0; }
        }
      }
    },
    plugins: [framePlugin]
  });
});
</script>
</body>
</html>
